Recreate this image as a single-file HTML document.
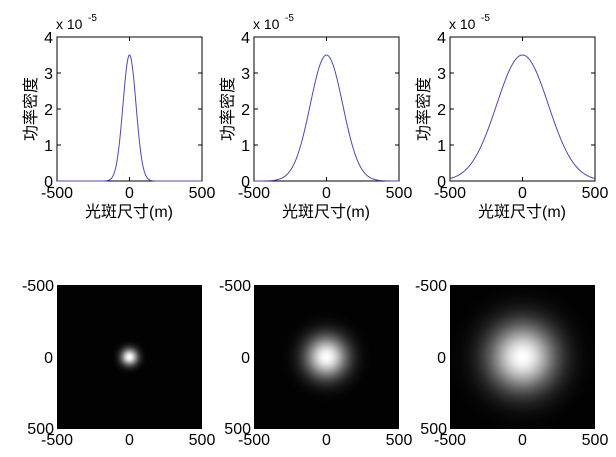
<!DOCTYPE html>
<html><head><meta charset="utf-8"><style>
html,body{margin:0;padding:0;background:#fff;width:616px;height:457px;overflow:hidden}
svg text{font-family:"Liberation Sans","Noto Sans CJK SC",sans-serif;fill:#000}
</style></head><body>
<svg id="s" width="616" height="457" xmlns="http://www.w3.org/2000/svg"></svg>
<script>
const s=document.getElementById('s');
const sig=[45,112,178];
const isig=[40,100,160];
const lefts=[57,254,450];
let h='<defs>';
isig.forEach((sg,i)=>{
  const R=sg*3.2*145/1000;
  h+=`<radialGradient id="g${i}" gradientUnits="userSpaceOnUse" cx="${lefts[i]+72.5}" cy="357" r="${R}">`;
  for(let k=0;k<=20;k++){const t=k/20;const d=t*3.2;const v=Math.round(255*Math.exp(-d*d/2));
    h+=`<stop offset="${t}" stop-color="rgb(${v},${v},${v})"/>`;}
  h+='</radialGradient>';
});
h+='</defs>';
sig.forEach((sg,i)=>{
  const L=lefts[i],R=L+145,T=37,B=181;
  h+=`<rect x="${L}" y="${T}" width="145" height="144" fill="#fff" stroke="#000" stroke-width="1"/>`;
  for(let k=0;k<=4;k++){const y=B-k*36;
    h+=`<line x1="${L}" y1="${y}" x2="${L+4}" y2="${y}" stroke="#000"/><line x1="${R}" y1="${y}" x2="${R-4}" y2="${y}" stroke="#000"/>`;
    h+=`<text x="${L-4}" y="${y+6}" font-size="16" text-anchor="end">${k}</text>`;}
  [-500,0,500].forEach((v,j)=>{const x=L+j*72.5;
    h+=`<line x1="${x}" y1="${B}" x2="${x}" y2="${B-4}" stroke="#000"/><line x1="${x}" y1="${T}" x2="${x}" y2="${T+4}" stroke="#000"/>`;
    h+=`<text x="${x}" y="${B+17}" font-size="16" text-anchor="middle">${v}</text>`;});
  h+=`<text x="${L-1}" y="${T-8}" font-size="14">x 10</text><text x="${L+31}" y="${T-16}" font-size="10">-5</text>`;
  h+=`<text x="${L+72}" y="${B+36}" font-size="16" text-anchor="middle">光斑尺寸(m)</text>`;
  h+=`<text transform="translate(${L-21},${T+72}) rotate(-90)" font-size="16" text-anchor="middle">功率密度</text>`;
  let p='';
  for(let k=0;k<=290;k++){const xm=-500+k*1000/290;const v=3.5*Math.exp(-xm*xm/(2*sg*sg));
    p+=(k?'L':'M')+(L+(xm+500)*0.145).toFixed(2)+','+(B-v*36).toFixed(2);}
  h+=`<path d="${p}" fill="none" stroke="#4a4ab0" stroke-width="1"/>`;
  const T2=285,B2=429;
  h+=`<rect x="${L}" y="${T2}" width="145" height="144" fill="#000"/>`;
  h+=`<rect x="${L}" y="${T2}" width="145" height="144" fill="url(#g${i})"/>`;
  h+=`<text x="${L-3}" y="${T2+6}" font-size="16" text-anchor="end">-500</text>`;
  h+=`<text x="${L-4}" y="${T2+78}" font-size="16" text-anchor="end">0</text>`;
  h+=`<text x="${L-3}" y="${B2+5}" font-size="16" text-anchor="end">500</text>`;
  [-500,0,500].forEach((v,j)=>{const x=L+j*72.5;
    h+=`<text x="${x}" y="${B2+16}" font-size="16" text-anchor="middle">${v}</text>`;});
});
s.innerHTML=h;
</script>
</body></html>
